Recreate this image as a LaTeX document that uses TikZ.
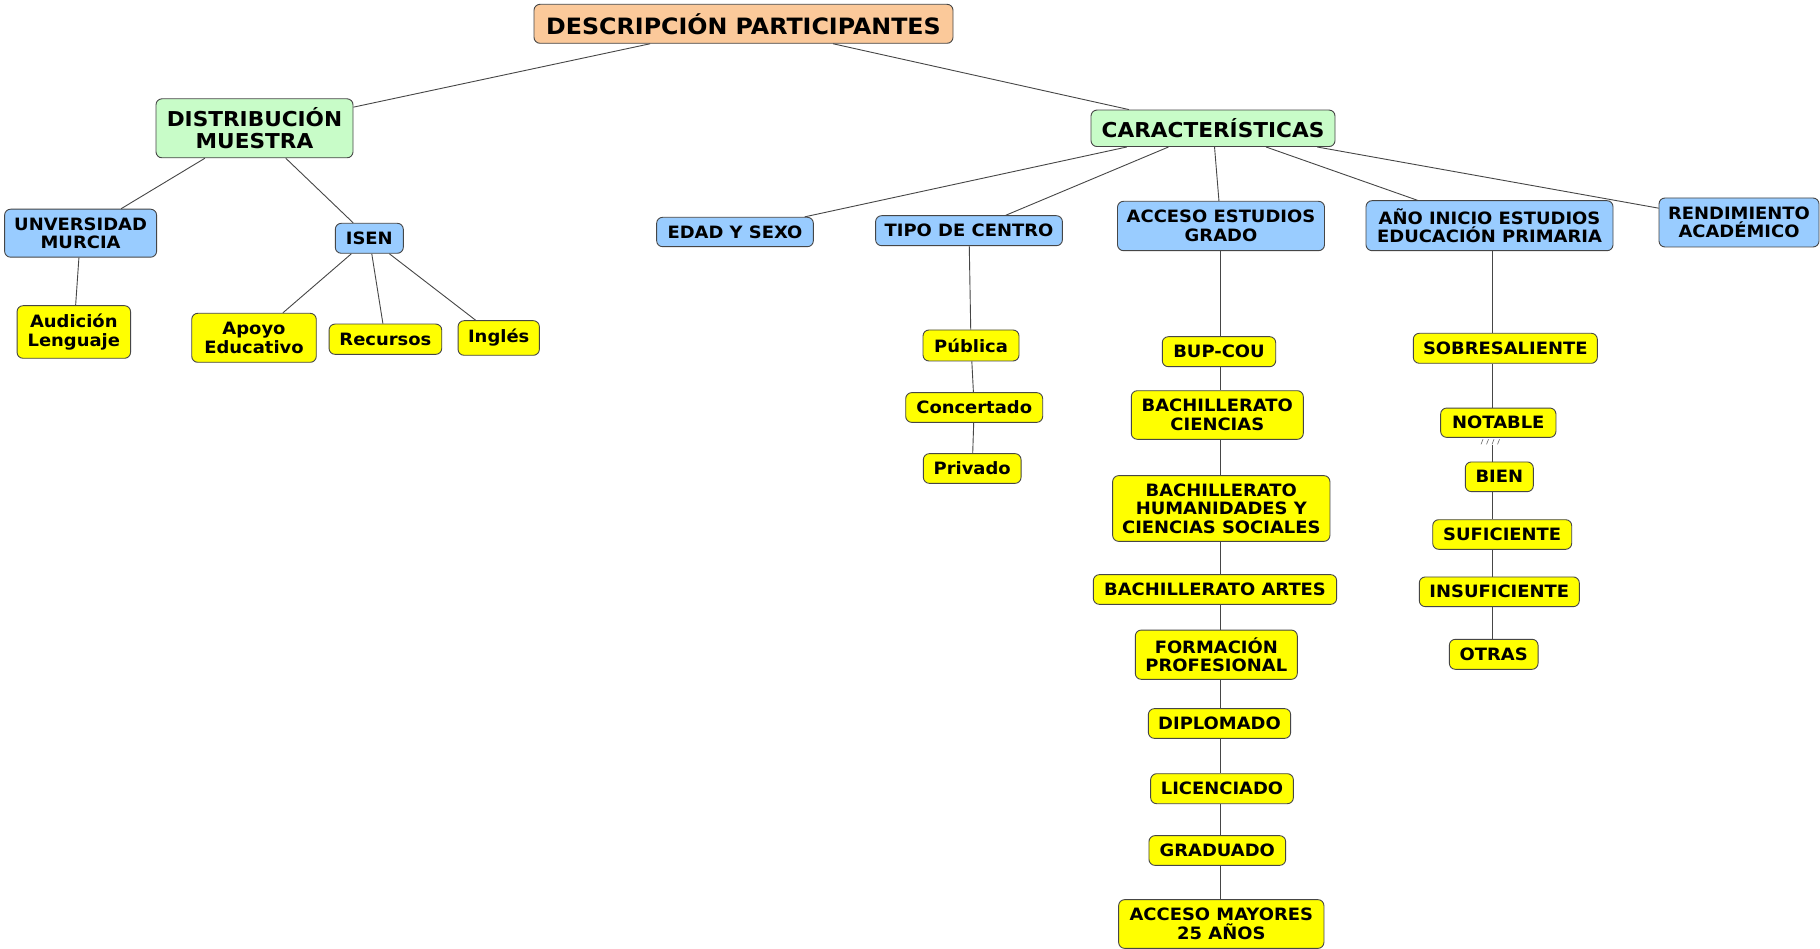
\documentclass[tikz,border=0pt]{standalone}
\usepackage{fontspec}
\setmainfont{DejaVu Sans}[FakeStretch=1.055]
\definecolor{peach}{RGB}{251,201,154}
\definecolor{mint}{RGB}{200,252,200}
\definecolor{sky}{RGB}{153,204,255}
\definecolor{lemon}{RGB}{255,255,0}
\definecolor{edge}{RGB}{70,70,70}
\tikzset{
  box/.style={draw=edge, line width=0.9pt, rounded corners=6pt, align=center, inner sep=2pt, text=black},
  rootbox/.style={box, fill=peach, font=\bfseries\fontsize{22.5}{24.5}\selectfont},
  mainbox/.style={box, fill=mint, font=\bfseries\fontsize{20.5}{22.5}\selectfont},
  catbox/.style={box, fill=sky, font=\bfseries\fontsize{17}{18.5}\selectfont},
  leafbox/.style={box, fill=lemon, font=\bfseries\fontsize{17}{18.5}\selectfont},
  link/.style={draw=edge, line width=0.9pt},
  wh/.style 2 args={minimum width=#1pt, minimum height=#2pt}
}
\begin{document}
\begin{tikzpicture}[x=1pt,y=-1pt]
\useasboundingbox[fill=white] (0,0) rectangle (1820,949);
% nodes
\node[rootbox, wh={419}{39}] (root) at (743.5,23.8) {DESCRIPCIÓN PARTICIPANTES};
\node[mainbox, wh={197}{59}] (dist) at (254.5,128.3) {DISTRIBUCIÓN\\MUESTRA};
\node[mainbox, wh={244}{36.5}] (car) at (1213,128.3) {CARACTERÍSTICAS};
\node[catbox, wh={152}{48}] (unv) at (80.6,233.2) {UNVERSIDAD\\MURCIA};
\node[catbox, wh={68}{30}] (isen) at (369.3,238.3) {ISEN};
\node[leafbox, wh={113.5}{52.6}] (aud) at (73.8,332) {Audición\\Lenguaje};
\node[leafbox, wh={124.5}{49}] (apoyo) at (254,337.8) {Apoyo\\Educativo};
\node[leafbox, wh={112.7}{30.3}] (recur) at (385.4,339.2) {Recursos};
\node[leafbox, wh={81.3}{34.6}] (ingles) at (498.7,338) {Inglés};
\node[catbox, wh={156.7}{29.4}] (edad) at (735,232) {EDAD Y SEXO};
\node[catbox, wh={186.8}{30}] (tipo) at (969,230.7) {TIPO DE CENTRO};
\node[catbox, wh={207}{49.4}] (acc) at (1221,226) {ACCESO ESTUDIOS\\GRADO};
\node[catbox, wh={247}{50}] (ano) at (1489.5,225.7) {AÑO INICIO ESTUDIOS\\EDUCACIÓN PRIMARIA};
\node[catbox, wh={160}{49}] (rend) at (1739,222.5) {RENDIMIENTO\\ACADÉMICO};
\node[leafbox, wh={96}{31}] (pub) at (971,345.5) {Pública};
\node[leafbox, wh={137}{29.7}] (conc) at (974.2,407.5) {Concertado};
\node[leafbox, wh={97.7}{29.7}] (priv) at (972.2,468.5) {Privado};
\node[leafbox, wh={113.4}{30}] (bup) at (1219,351.7) {BUP-COU};
\node[leafbox, wh={172}{48.6}] (bachc) at (1217.3,415) {BACHILLERATO\\CIENCIAS};
\node[leafbox, wh={217.3}{65.7}] (bachh) at (1221.3,508.5) {BACHILLERATO\\HUMANIDADES Y\\CIENCIAS SOCIALES};
\node[leafbox, wh={243.3}{29.7}] (bacha) at (1215,589.5) {BACHILLERATO ARTES};
\node[leafbox, wh={162}{49.3}] (fp) at (1216.3,654.7) {FORMACIÓN\\PROFESIONAL};
\node[leafbox, wh={142.3}{29.7}] (dipl) at (1219.5,723.5) {DIPLOMADO};
\node[leafbox, wh={142.7}{30}] (lic) at (1222,788.7) {LICENCIADO};
\node[leafbox, wh={136.7}{29.7}] (grad) at (1217.3,850.5) {GRADUADO};
\node[leafbox, wh={205.3}{48.7}] (may) at (1221.3,924) {ACCESO MAYORES\\25 AÑOS};
\node[leafbox, wh={184}{30}] (sob) at (1505.3,348.3) {SOBRESALIENTE};
\node[leafbox, wh={115.3}{29.3}] (notab) at (1498.3,422.7) {NOTABLE};
\node[leafbox, wh={68}{29.7}] (bien) at (1499.3,476.8) {BIEN};
\node[leafbox, wh={139}{29.6}] (suf) at (1502.2,534.5) {SUFICIENTE};
\node[leafbox, wh={160}{29.7}] (insuf) at (1499.3,591.8) {INSUFICIENTE};
\node[leafbox, wh={88.7}{30}] (otras) at (1493.7,654.3) {OTRAS};
\coordinate (ax) at (1220.5,0);
\coordinate (bx) at (1492,0);
% connectors
\draw[link] (root) -- (dist);
\draw[link] (root) -- (car);
\draw[link] (dist) -- (unv);
\draw[link] (dist) -- (isen);
\draw[link] (unv) -- (aud);
\draw[link] (isen) -- (apoyo);
\draw[link] (isen) -- (recur);
\draw[link] (isen) -- (ingles);
\draw[link] (car) -- (edad);
\draw[link] (car) -- (tipo);
\draw[link] (car) -- (acc);
\draw[link] (car) -- (ano);
\draw[link] (car) -- (rend);
\draw[link] (tipo) -- (pub);
\draw[link] (pub) -- (conc);
\draw[link] (conc) -- (priv);
\draw[link] (acc.south -| ax) -- (bup.north -| ax);
\draw[link] (bup.south -| ax) -- (bachc.north -| ax);
\draw[link] (bachc.south -| ax) -- (bachh.north -| ax);
\draw[link] (bachh.south -| ax) -- (bacha.north -| ax);
\draw[link] (bacha.south -| ax) -- (fp.north -| ax);
\draw[link] (fp.south -| ax) -- (dipl.north -| ax);
\draw[link] (dipl.south -| ax) -- (lic.north -| ax);
\draw[link] (lic.south -| ax) -- (grad.north -| ax);
\draw[link] (grad.south -| ax) -- (may.north -| ax);
\draw[link] (ano.south -| bx) -- (sob.north -| bx);
\draw[link] (sob.south -| bx) -- (notab.north -| bx);
\draw[link] ([yshift=-7pt]notab.south -| bx) -- (bien.north -| bx);
\draw[link] (bien.south -| bx) -- (suf.north -| bx);
\draw[link] (suf.south -| bx) -- (insuf.north -| bx);
\draw[link] (insuf.south -| bx) -- (otras.north -| bx);
% small marks under NOTABLE
\foreach \i in {0,1,2,3} {
  \draw[edge!80, line width=0.6pt] ([xshift=\i*5.5pt-11pt, yshift=-6.5pt]notab.south -| bx) -- ++(2,-5);
}
\end{tikzpicture}
\end{document}
